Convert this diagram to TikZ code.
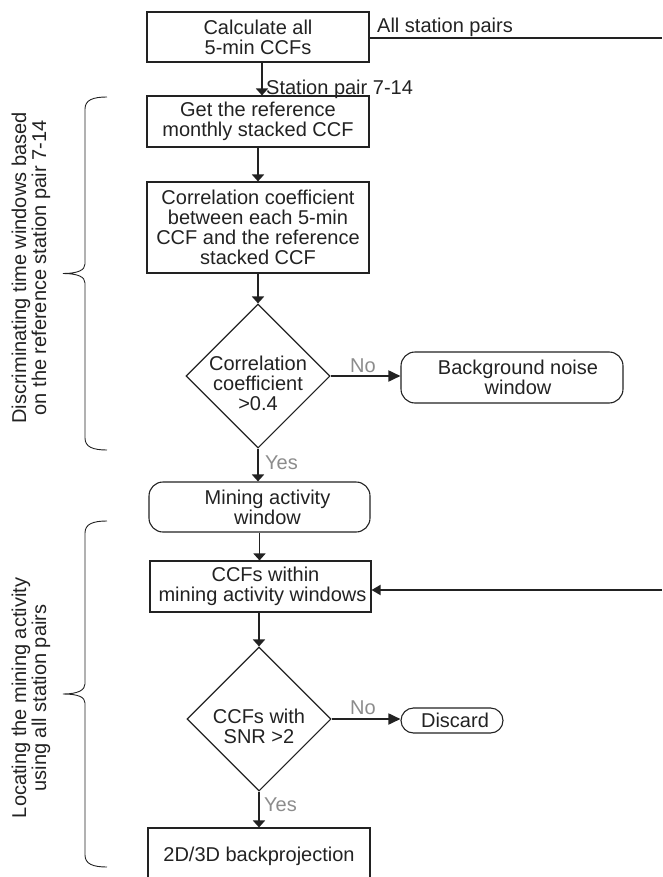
\documentclass[tikz,border=0pt]{standalone}
\usepackage{fontspec}
\setmainfont{Liberation Sans}
\usetikzlibrary{shapes.geometric,arrows.meta}
\definecolor{ink}{HTML}{222222}
\definecolor{lbl}{HTML}{8C8C8C}
\begin{document}
\begin{tikzpicture}[x=1pt,y=-1pt,
  every node/.style={font=\fontsize{20pt}{20pt}\selectfont, text=ink, inner sep=0pt},
  box/.style={draw=ink, line width=1.1pt, align=center, minimum width=222pt},
  rbox/.style={box, rounded corners=14pt},
  dia/.style={draw=ink, line width=1.1pt, shape=diamond, minimum width=144pt, minimum height=144pt},
  varr/.style={draw=ink, line width=1.8pt, -{Triangle[length=7pt,width=12pt]}},
  harr/.style={draw=ink, line width=1.8pt, -{Triangle[length=12pt,width=11pt]}},
  iarr/.style={draw=ink, line width=1.8pt, -{Triangle[length=9pt,width=10pt]}},
  yn/.style={text=lbl},
  side/.style={rotate=90, align=center},
  bracestyle/.style={draw=ink, line width=0.9pt}
]
\useasboundingbox (0,0) rectangle (662,877);
\clip (0,0) rectangle (662,877);

% boxes
\node[box, minimum height=50pt] (b1) at (258,37) {Calculate all\\5-min CCFs};
\node[box, minimum height=51pt] (b2) at (258,121.5) {Get the reference\\monthly stacked CCF};
\node[box, minimum height=91pt] (b3) at (258,227.5) {Correlation coefficient\\between each 5-min\\CCF and the reference\\stacked CCF};
\node[dia] (d1) at (258,376) {};
\node[align=center] (d1t) at ([yshift=-7pt]d1.center) {Correlation\\coefficient\\>0.4};
\node[rbox, minimum height=51pt] (bg) at (512,377.5) {\hspace*{12pt}Background noise\\\hspace*{12pt}window};
\node[rbox, minimum width=221pt, minimum height=50pt] (mine) at (259.5,507) {\hspace*{16pt}Mining activity\\\hspace*{16pt}window};
\node[box, minimum width=221pt, minimum height=51pt] (ccf) at (260.5,586.5) {\hspace*{10pt}CCFs within\\\hspace*{4pt}mining activity windows};
\node[dia] (d2) at (259,719) {};
\node[align=center] (d2t) at ([yshift=-7pt]d2.center) {CCFs with\\SNR >2};
\node[box, minimum width=102pt, minimum height=25pt, rounded corners=12.5pt] (disc) at (452,720.5) {\hspace*{6pt}Discard};
\node[box, minimum height=56pt] (b5) at (259,856) {2D/3D backprojection};

% free ends at the right edge
\coordinate (rt1) at (662,38);
\coordinate (rt2) at (662,590);

% labels
\node[anchor=base west] (lall) at (377,33) {All station pairs};
\node[anchor=base west] (lpair) at (266,95) {Station pair 7-14};
\node[yn, anchor=base west] (no1) at (350,372) {No};
\node[yn, anchor=base west] (yes1) at (265,469) {Yes};
\node[yn, anchor=base west] (no2) at (350,714.5) {No};
\node[yn, anchor=base west] (yes2) at (264,811) {Yes};

% connectors
\draw[line width=1.8pt, draw=ink] (b1.east |- rt1) -- (rt1);
\draw[varr] ([xshift=4pt]b1.south) -- ([xshift=4pt]b2.north);
\draw[varr] (b2.south) -- (b3.north);
\draw[varr] (b3.south) -- (d1.north);
\draw[harr] (d1.east) -- (d1.east -| bg.west);
\draw[varr] (d1.south) -- (d1.south |- mine.north);
\draw[varr] (mine.south) -- (mine.south |- ccf.north);
\draw[iarr] (rt2) -- (rt2 -| ccf.east);
\draw[varr] (ccf.south -| d2.north) -- (d2.north);
\draw[harr] (d2.east) -- (d2.east -| disc.west);
\draw[varr] (d2.south) -- (d2.south |- b5.north);

% braces
\draw[bracestyle] (107,97) .. controls (93,97) and (85,100) .. (85,109) -- (85,264)
  .. controls (85,270) and (78,273.5) .. (63,273.5)
  .. controls (78,273.5) and (85,277) .. (85,283) -- (85,438)
  .. controls (85,447) and (93,450) .. (107,450);
\draw[bracestyle] (107,521) .. controls (93,521) and (85,524) .. (85,533) -- (85,684)
  .. controls (85,690) and (78,694) .. (63,694)
  .. controls (78,694) and (85,697) .. (85,703) -- (85,855)
  .. controls (85,864) and (93,867) .. (107,867);

% side texts
\node[side] (s1) at (31,268) {Discriminating time windows based\\on the reference station pair 7-14};
\node[side] (s2) at (31,698) {Locating the mining activity\\using all station pairs};
\end{tikzpicture}
\end{document}
